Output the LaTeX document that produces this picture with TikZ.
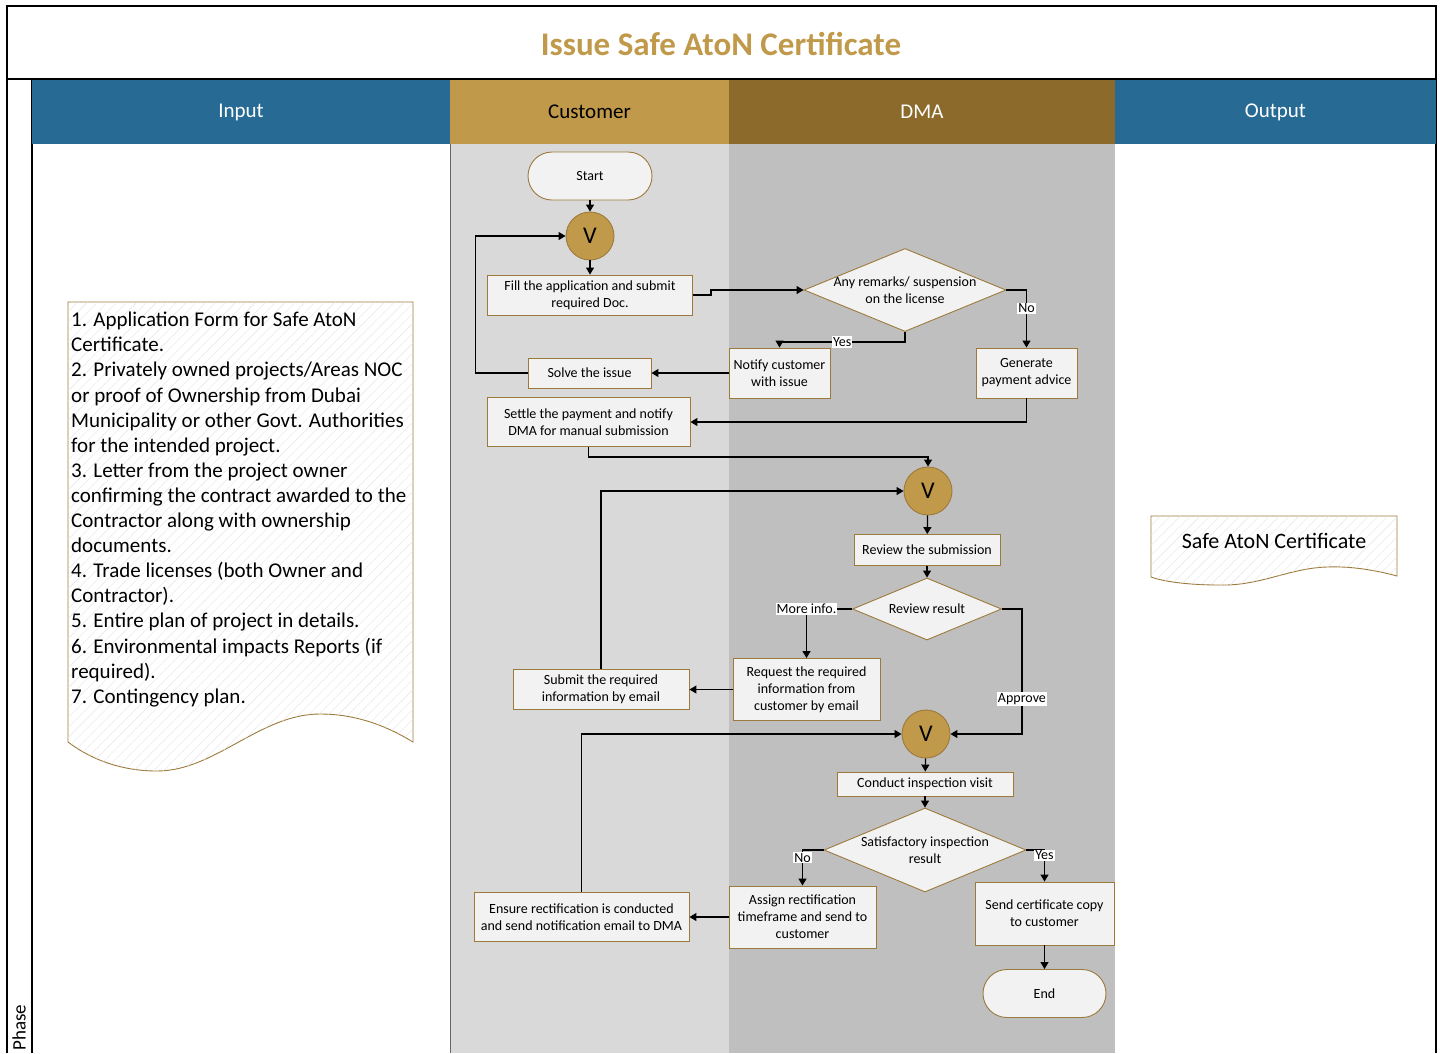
\documentclass[tikz,border=0pt]{standalone}
\usepackage{fontspec}
\setmainfont{Carlito}
\usepackage{xcolor}
\usepackage{tikz}
\usetikzlibrary{shapes.geometric,arrows.meta,positioning,patterns.meta}
\definecolor{atonblue}{HTML}{276A94}
\definecolor{atongold}{HTML}{C09A4A}
\definecolor{atonbrown}{HTML}{8B6A2C}
\definecolor{laneA}{HTML}{D9D9D9}
\definecolor{laneB}{HTML}{BFBFBF}
\definecolor{boxline}{HTML}{9C7A3C}
\definecolor{boxfill}{HTML}{F2F2F2}
\tikzset{
    hdr/.style={rectangle, minimum height=64pt, inner sep=0, font=\fontsize{21}{25}\selectfont},
    proc/.style={rectangle, draw=boxline, line width=0.9pt, fill=boxfill, align=center, inner sep=2pt, font=\fontsize{14}{17}\selectfont},
    decision/.style={diamond, aspect=2.4, draw=boxline, line width=0.9pt, fill=boxfill, align=center, inner sep=-12pt, font=\fontsize{14}{17}\selectfont},
    term/.style={proc, rounded corners=24pt, minimum width=124pt, minimum height=48pt},
    merge/.style={circle, draw=boxline, line width=0.9pt, fill=atongold, minimum size=48pt, inner sep=0, font=\fontsize{24}{24}\selectfont},
    flow/.style={-{Triangle[length=7pt,width=8pt]}, line width=1.2pt},
    lbl/.style={fill=white, inner sep=1pt, font=\fontsize{14}{15}\selectfont},
    doc/.style={draw=boxline, line width=0.9pt, fill=white, postaction={pattern={Lines[angle=45,distance=7pt,line width=0.4pt]}, pattern color=gray!20}},
}

\begin{document}
\begin{tikzpicture}[x=1pt, y=-1pt]
    \useasboundingbox (0,0) rectangle (1443,1053);
    \fill[white] (0,0) rectangle (1443,1053);
    \fill[laneA] (450,144) rectangle (729,1053);
    \fill[laneB] (729,144) rectangle (1115,1053);
    \draw[line width=1.2pt] (7,1053) -- (7,6) -- (1436,6) -- (1436,1053);
    \draw[line width=1.2pt] (7,79) -- (1436,79);
    \draw[line width=1.2pt] (32,79) -- (32,1053);
    \draw[gray!80!black, line width=0.6pt] (450,144) -- (450,1053);

    \node[font=\fontsize{33}{40}\selectfont\bfseries, text=atongold] (title) at (721,44) {Issue Safe AtoN Certificate};
    \node[rotate=90, anchor=west, font=\fontsize{19}{21}\selectfont] (phase) at (19,1054) {Phase};

    \node[hdr, fill=atonblue, text=white, minimum width=418pt] (hin) at (241,112) {Input};
    \node[hdr, fill=atongold, minimum width=279pt] (hcu) at (589.5,112) {Customer};
    \node[hdr, fill=atonbrown, text=white, minimum width=386pt] (hdma) at (922,112) {DMA};
    \node[hdr, fill=atonblue, text=white, minimum width=321pt] (hout) at (1275.5,112) {Output};

    \path[doc] (68,302) -- (413,302) -- (413,742) .. controls (385,725) and (355,714) .. (320,714) .. controls (260,714) and (215,771) .. (157,771) .. controls (115,771) and (85,755) .. (68,742) -- cycle;
    \node[anchor=north west, align=left, inner sep=0, font=\fontsize{21}{25.1}\selectfont] (inputs) at (71,312) {1. Application Form for Safe AtoN\\Certificate.\\2. Privately owned projects/Areas NOC\\or proof of Ownership from Dubai\\Municipality or other Govt. Authorities\\for the intended project.\\3. Letter from the project owner\\confirming the contract awarded to the\\Contractor along with ownership\\documents.\\4. Trade licenses (both Owner and\\Contractor).\\5. Entire plan of project in details.\\6. Environmental impacts Reports (if\\required).\\7. Contingency plan.};

    \path[doc] (1151,516) -- (1397,516) -- (1397,576) .. controls (1375,570) and (1350,566) .. (1327,567) .. controls (1290,568) and (1260,586) .. (1220,585) .. controls (1190,585) and (1165,582) .. (1151,577) -- cycle;
    \node[font=\fontsize{22}{26}\selectfont] (outputs) at (1274,541) {Safe AtoN Certificate};

    \node[term] (start) at (590,176) {Start};
    \node[merge] (v1) at (590,236) {V};
    \node[proc, minimum width=205pt, minimum height=40pt] (fill) at (590,295) {Fill the application and submit\\required Doc.};
    \node[decision, minimum width=202pt, minimum height=83pt] (remarks) at (905,290) {Any remarks/ suspension\\on the license};
    \node[proc, minimum width=101pt, minimum height=50pt] (notify) at (779.5,373) {Notify customer\\with issue};
    \node[proc, minimum width=101pt, minimum height=50pt] (payadv) at (1026.5,373) {Generate\\payment advice};
    \node[proc, minimum width=123pt, minimum height=30pt] (solve) at (589.5,373) {Solve the issue};
    \node[proc, minimum width=203pt, minimum height=49pt] (settle) at (588.5,422) {Settle the payment and notify\\DMA for manual submission};
    \node[merge] (v2) at (928,491) {V};
    \node[proc, minimum width=146pt, minimum height=31pt] (review) at (927,550) {Review the submission};
    \node[decision, minimum width=149pt, minimum height=62pt] (result) at (927,609) {Review result};
    \node[proc, minimum width=147pt, minimum height=62pt] (request) at (806.5,689.5) {Request the required\\information from\\customer by email};
    \node[proc, minimum width=176pt, minimum height=40pt] (submit) at (601,689.5) {Submit the required\\information by email};
    \node[merge] (v3) at (926,734) {V};
    \node[proc, minimum width=176pt, minimum height=24pt] (visit) at (925,784) {Conduct inspection visit};
    \node[decision, minimum width=202pt, minimum height=84pt] (satis) at (925,850) {Satisfactory inspection\\result};
    \node[proc, minimum width=147pt, minimum height=62pt] (assign) at (802.5,917) {Assign rectification\\timeframe and send to\\customer};
    \node[proc, minimum width=215pt, minimum height=49pt] (ensure) at (581.5,917) {Ensure rectification is conducted\\and send notification email to DMA};
    \node[proc, minimum width=139pt, minimum height=63pt] (sendcp) at (1044.5,913.5) {Send certificate copy\\to customer};
    \node[term, minimum width=123pt] (finish) at (1044.5,993.5) {End};

    \draw[flow] (start) -- (v1);
    \draw[flow] (v1) -- (fill);
    \draw[flow] (fill.east) -- ++(18,0) |- (remarks.west);
    \draw[flow] (remarks.south) -- ++(0,10) -| node[lbl, pos=0.25] (yes1) {Yes} (notify.north);
    \draw[flow] (remarks.east) -| node[lbl, pos=0.66] (no1) {No} (payadv.north);
    \draw[flow] (notify) -- (solve);
    \draw[flow] (solve.west) -- ++(-52,0) |- (v1.west);
    \draw[flow] (payadv.south) |- (settle.east);
    \draw[flow] (settle.south) -- ++(0,10) -| (v2.north);
    \draw[flow] (v2) -- (review);
    \draw[flow] (review) -- (result);
    \draw[flow] (result.west) -| node[lbl, pos=0.5] (more) {More info.} (request.north);
    \draw[flow] (result.east) -- ++(20,0) |- node[lbl, pos=0.36] (appr) {Approve} (v3.east);
    \draw[flow] (request) -- (submit);
    \draw[flow] (submit.north) |- (v2.west);
    \draw[flow] (v3) -- (visit);
    \draw[flow] (visit) -- (satis);
    \draw[flow] (satis.west) -| node[lbl, pos=0.61] (no2) {No} (assign.north);
    \draw[flow] (satis.east) -| node[lbl, pos=0.58] (yes2) {Yes} (sendcp.north);
    \draw[flow] (assign) -- (ensure);
    \draw[flow] (ensure.north) |- (v3.west);
    \draw[flow] (sendcp) -- (finish);
\end{tikzpicture}
\end{document}
